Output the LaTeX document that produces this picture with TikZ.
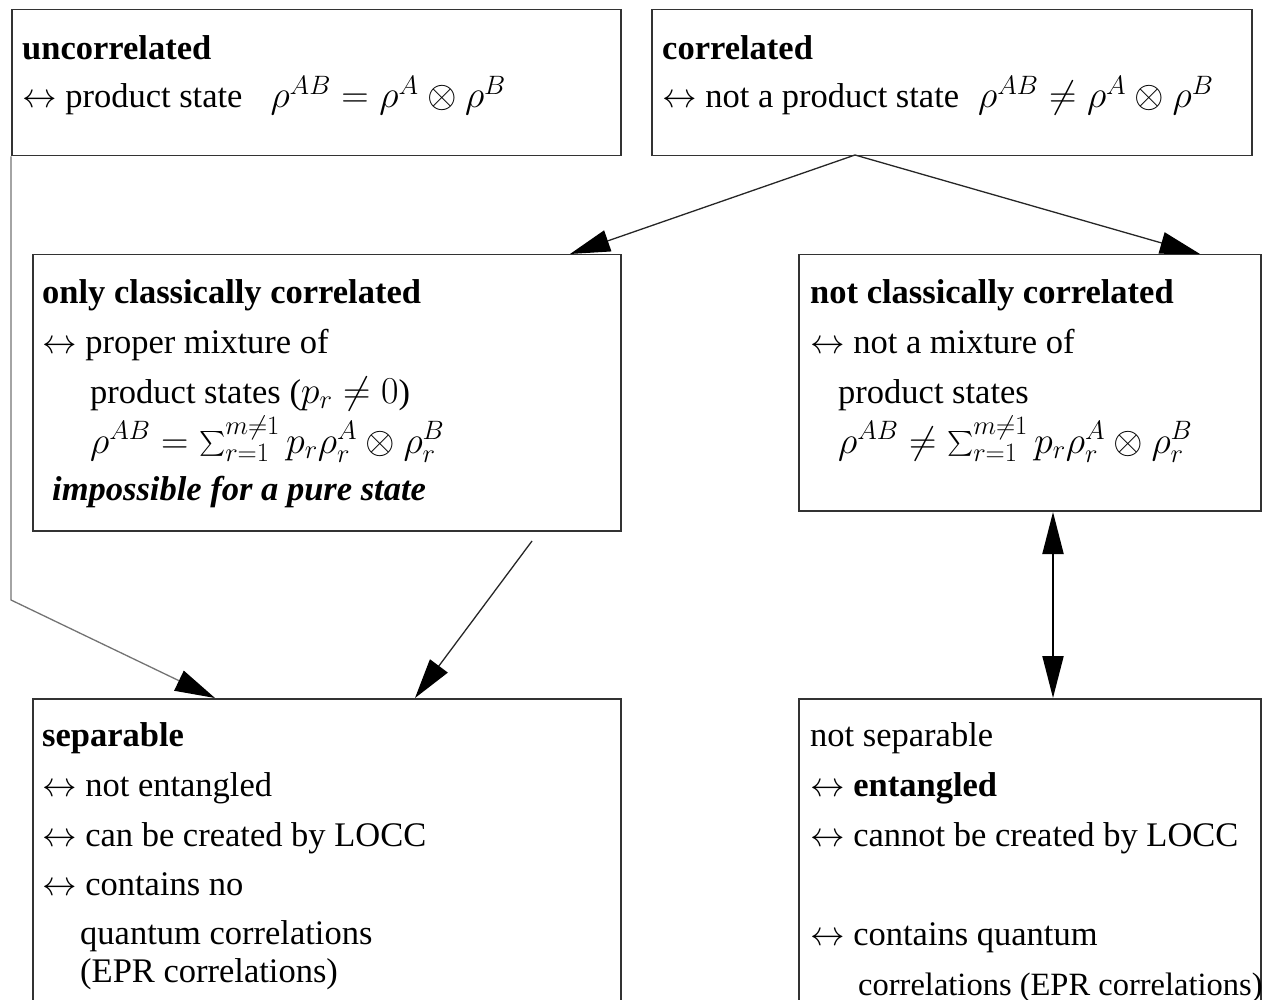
\RequirePackage{fix-cm}
\documentclass[tikz,border=0pt]{standalone}
\usepackage{exscale}
\usepackage{fontspec}
\setmainfont{Liberation Serif}
\usetikzlibrary{arrows.meta}
\newcommand{\mfnt}{\fontsize{38}{40}\selectfont}
\tikzset{
  box/.style={draw=black!80, line width=1.5pt, anchor=north west, inner sep=0pt},
  txt/.style={anchor=base west, inner sep=0pt, font=\fontsize{34.5}{40}\selectfont},
  arr/.style={line width=1.3pt, draw=black!85, -{Triangle[length=40pt,width=22pt,color=black]}},
  dblarr/.style={line width=2pt, draw=black, {Triangle[length=42pt,width=21pt]}-{Triangle[length=42pt,width=21pt]}},
  grayline/.style={line width=1.3pt, draw=black!55, -{Triangle[length=40pt,width=22pt,color=black]}}
}
\begin{document}
\begin{tikzpicture}[x=1pt,y=-1pt]
\useasboundingbox (0,0) rectangle (1266,1000);
% boxes
\node[box, minimum width=609pt, minimum height=146pt] (b1) at (11,9) {};
\node[box, minimum width=600pt, minimum height=146pt] (b2) at (651,9) {};
\node[box, minimum width=588pt, minimum height=276pt] (b3) at (32,254) {};
\node[box, minimum width=462pt, minimum height=256pt] (b4) at (798,254) {};
\node[box, minimum width=588pt, minimum height=340pt] (b5) at (32,698) {};
\node[box, minimum width=462pt, minimum height=340pt] (b6) at (798,698) {};
% texts box 1
\node[txt] (t1a) at (22,60) {\textbf{uncorrelated}};
\node[txt] (t1b) at (22,108) {$\leftrightarrow$ product state\hspace{28pt}{\mfnt$\rho^{AB}=\rho^A\otimes\rho^B$}};
% box 2
\node[txt] (t2a) at (662,60) {\textbf{correlated}};
\node[txt] (t2b) at (662,108) {$\leftrightarrow$ not a product state\hspace{19pt}{\mfnt$\rho^{AB}\neq\rho^A\otimes\rho^B$}};
% box 3
\node[txt] (t3a) at (42,304) {\textbf{only classically correlated}};
\node[txt] (t3b) at (42,353) {$\leftrightarrow$ proper mixture of};
\node[txt] (t3c) at (90,403) {product states ({\mfnt$p_r\neq 0$})};
\node[txt] (t3d) at (90,453) {\mfnt$\rho^{AB}=\sum_{r=1}^{m\neq1}p_r\rho_r^A\otimes\rho_r^B$};
\node[txt] (t3e) at (52,500) {\textbf{\textit{impossible for a pure state}}};
% box 4
\node[txt] (t4a) at (810,304) {\textbf{not classically correlated}};
\node[txt] (t4b) at (810,353) {$\leftrightarrow$ not a mixture of};
\node[txt] (t4c) at (838,403) {product states};
\node[txt] (t4d) at (838,453) {\mfnt$\rho^{AB}\neq\sum_{r=1}^{m\neq1}p_r\rho_r^A\otimes\rho_r^B$};
% box 5
\node[txt] (t5a) at (42,746) {\textbf{separable}};
\node[txt] (t5b) at (42,796) {$\leftrightarrow$ not entangled};
\node[txt] (t5c) at (42,846) {$\leftrightarrow$ can be created by LOCC};
\node[txt] (t5d) at (42,895) {$\leftrightarrow$ contains no};
\node[txt] (t5e) at (80,944) {quantum correlations};
\node[txt] (t5f) at (80,982) {(EPR correlations)};
% box 6
\node[txt] (t6a) at (810,746) {not separable};
\node[txt] (t6b) at (810,796) {$\leftrightarrow$ \textbf{entangled}};
\node[txt] (t6c) at (810,846) {$\leftrightarrow$ cannot be created by LOCC};
\node[txt] (t6d) at (810,945) {$\leftrightarrow$ contains quantum};
\node[txt, font=\fontsize{32.5}{40}\selectfont] (t6e) at (858,995) {correlations (EPR correlations)};
% connector coordinates
\coordinate (c2s) at (855,155);
\coordinate (c3n) at (570,254);
\coordinate (c4n) at (1200,254);
\coordinate (c3s) at (532,541);
\coordinate (c5nr) at (415,698);
\coordinate (c5nl) at (215,698);
\coordinate (cbend) at (11,600);
\coordinate (c4s) at (1053,512);
\coordinate (c6n) at (1053,698);
% connectors
\draw[arr] (c2s) -- (c3n);
\draw[arr] (c2s) -- (c4n);
\draw[arr] (c3s) -- (c5nr);
\draw[grayline] (b1.south west) -- (cbend) -- (c5nl);
\draw[dblarr] (c4s) -- (c6n);
\end{tikzpicture}
\end{document}
